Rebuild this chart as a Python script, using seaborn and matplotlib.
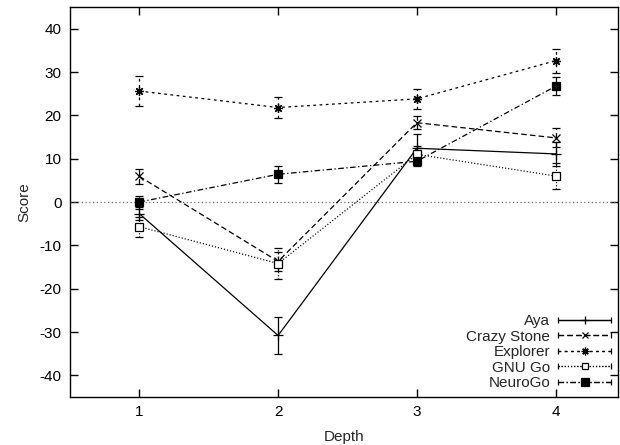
import numpy as np
import pandas as pd
import matplotlib
matplotlib.use("Agg")
import matplotlib.pyplot as plt
import seaborn as sns
from matplotlib.container import ErrorbarContainer
from matplotlib.legend_handler import HandlerErrorbar

depth = [1, 2, 3, 4]
engines = ["Aya", "Crazy Stone", "Explorer", "GNU Go", "NeuroGo"]
aya = [-2.7, -30.8, 12.4, 11.1]
aya_err = [1.5, 4.2, 3.3, 2.8]
crazy = [5.9, -13.7, 18.3, 14.8]
crazy_err = [1.8, 2.2, 1.5, 2.2]
explorer = [25.6, 21.8, 23.8, 32.6]
explorer_err = [3.5, 2.4, 2.3, 2.8]
gnugo = [-5.7, -14.2, 11.0, 6.0]
gnugo_err = [2.3, 3.5, 2.0, 3.0]
neurogo = [0.0, 6.4, 9.4, 26.7]
neurogo_err = [1.5, 1.9, 1.0, 2.1]

values = [aya, crazy, explorer, gnugo, neurogo]
errors = [aya_err, crazy_err, explorer_err, gnugo_err, neurogo_err]

styles = {
    "Aya": dict(ls="-", marker="+", ms=7, mfc="black"),
    "Crazy Stone": dict(ls=(0, (4.5, 2.5)), marker="x", ms=5.5, mfc="black"),
    "Explorer": dict(ls=(0, (2.2, 2.8)), marker=(8, 2, 0), ms=6.5, mfc="black"),
    "GNU Go": dict(ls=(0, (0.9, 1.6)), marker="s", ms=5.5, mfc="white"),
    "NeuroGo": dict(ls=(0, (4.5, 2, 1, 2)), marker="s", ms=6, mfc="black"),
}

sns.set_theme(style="ticks")
plt.rcParams["font.family"] = ["Liberation Sans", "DejaVu Sans"]
plt.rcParams["axes.unicode_minus"] = False
FS = 11
plt.rcParams["font.size"] = FS

fig = plt.figure(figsize=(6.2, 4.45), dpi=100)
ax = fig.add_axes([70 / 620, 48 / 445, 548 / 620, 390 / 445])

lw = 0.9
ax.axhline(0, color="#666666", lw=0.9, ls=(0, (1, 2)), zorder=1)

handles = []
for name, vals, errs in zip(engines, values, errors):
    st = styles[name]
    df = pd.DataFrame({"Depth": depth, "Score": vals})
    sns.lineplot(data=df, x="Depth", y="Score", ax=ax, color="black",
                 linestyle=st["ls"], linewidth=lw, marker=st["marker"],
                 markersize=st["ms"], markerfacecolor=st["mfc"],
                 markeredgecolor="black", markeredgewidth=0.9,
                 errorbar=None, legend=False, zorder=3)
    eb = ax.errorbar(depth, vals, yerr=errs, fmt="none", ecolor="black",
                     elinewidth=lw, capsize=3, capthick=lw, zorder=2)
    eb.lines[2][0].set_linestyle(st["ls"])
    # legend proxy (no data drawn)
    h = ax.errorbar([np.nan], [np.nan], xerr=[1.0], color="black",
                    linestyle=st["ls"], linewidth=lw, marker=st["marker"],
                    markersize=st["ms"] * 0.85, markerfacecolor=st["mfc"],
                    markeredgecolor="black", markeredgewidth=0.9,
                    capsize=2.5, capthick=lw, elinewidth=lw, label=name)
    h.lines[2][0].set_linestyle(st["ls"])
    handles.append(h)

ax.set_xlim(0.5, 4.45)
ax.set_ylim(-45, 45)
ax.set_xticks(depth)
ax.set_yticks(np.arange(-40, 41, 10))
ax.set_xlabel("Depth", fontsize=FS, labelpad=8)
ax.set_ylabel("Score", fontsize=FS, labelpad=6)
ax.tick_params(direction="in", length=6, width=1, top=True, right=True,
               labelsize=FS, colors="black", pad=6)
for s in ax.spines.values():
    s.set_visible(True)
    s.set_linewidth(1.0)
    s.set_color("black")

ax.legend(handles=handles, labels=engines, loc="lower right",
          markerfirst=False, frameon=False, handlelength=3.45,
          handletextpad=0.55, labelspacing=0.1, borderpad=0,
          borderaxespad=0.45, fontsize=FS,
          handler_map={ErrorbarContainer: HandlerErrorbar(xerr_size=1.72)})

fig.savefig("out.png", dpi=100)
